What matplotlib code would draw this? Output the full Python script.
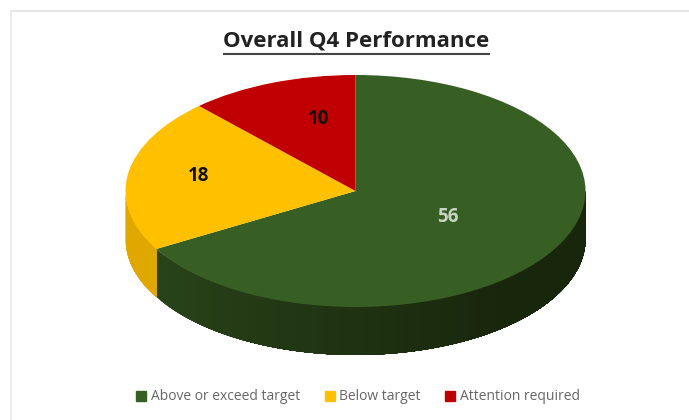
import numpy as np
import matplotlib.pyplot as plt
from matplotlib.colors import to_rgb
from matplotlib.patches import Patch

labels = ["Above or exceed target", "Below target", "Attention required"]
values = [56, 18, 10]
colors = ["#375E23", "#FFC000", "#C00000"]
side_left = ["#2E4D1D", "#DFA700", "#A00000"]
side_right = ["#18260C", "#DFA700", "#A00000"]
text_colors = ["#C8D4C4", "#111111", "#111111"]
label_px = [(448, 217), (199, 176), (319, 119)]

W, H = 689, 420
cx, cy = 355.5, 191   # pie centre in pixels
rx, ry = 230, 116     # radii in pixels
depth = 48 / ry

fig = plt.figure(figsize=(W / 100, H / 100), dpi=100, facecolor="white")
ax = fig.add_axes([0, 0, 1, 1])

wedges, _ = ax.pie(values, colors=colors, startangle=90, counterclock=False, radius=1, wedgeprops={"linewidth": 0, "zorder": 3})
ax.set_aspect("auto")
ax.set_xlim(-cx / rx, (W - cx) / rx)
ax.set_ylim((cy - H) / ry, cy / ry)
ax.set_frame_on(False)

# side wall of the disc, only the front half shows
# each strip runs to the end of the wall and the next one paints over it, so no seams
for w, c1, c2 in zip(wedges, side_left, side_right):
    c1 = np.array(to_rgb(c1))
    c2 = np.array(to_rgb(c2))
    edges = np.r_[np.arange(w.theta1, w.theta2, 2), w.theta2]
    edges = edges[np.sin(np.radians(edges)) <= 0.001]
    if len(edges) < 2:
        continue
    for a in edges[:-1]:
        f = min((a % 360 - 180) / 130, 1)
        c = c1 * (1 - f) + c2 * f
        t = np.radians(np.linspace(a, edges[-1], 80))
        xs = np.cos(t)
        ys = np.sin(t)
        ax.fill(np.r_[xs, xs[::-1]], np.r_[ys, ys[::-1] - depth], facecolor=c, lw=0, zorder=2)

for v, (px, py), tc in zip(values, label_px, text_colors):
    fig.text(px / W, 1 - py / H, str(v), color=tc, fontsize=13.5, fontweight="bold", family="Open Sans", ha="center", va="center")

fig.text(356.5 / W, 1 - 41 / H, "Overall Q4 Performance", fontsize=16, fontweight="bold", family="Open Sans", color="#222222", ha="center", va="center")
fig.add_artist(plt.Line2D([224 / W, 489 / W], [1 - 53.5 / H, 1 - 53.5 / H], color="#444444", lw=1.5))

handles = [Patch(color=c) for c in colors]
fig.legend(handles, labels, loc="center", bbox_to_anchor=(358 / W, 1 - 397 / H), ncol=3, frameon=False,
           prop={"family": "Open Sans", "size": 10}, labelcolor="#666666", handlelength=0.72, handleheight=0.72,
           handletextpad=0.3, columnspacing=1.8)

# chart area border, top and left only show
fig.add_artist(plt.Line2D([11 / W, 1], [1 - 10.5 / H, 1 - 10.5 / H], color="#E2E2E2", lw=1.2))
fig.add_artist(plt.Line2D([11 / W, 11 / W], [0, 1 - 10.5 / H], color="#E8E8E8", lw=1.2))

fig.savefig("out.png", dpi=100)
